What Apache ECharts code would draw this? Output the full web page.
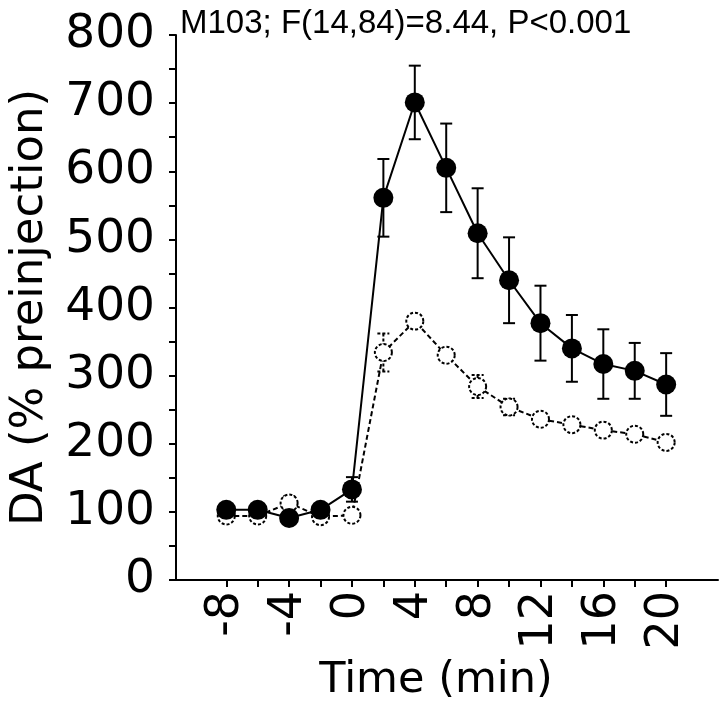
<!DOCTYPE html>
<html>
<head>
<meta charset="utf-8">
<script src="https://cdn.jsdelivr.net/npm/echarts@6/dist/echarts.min.js"></script>
<style>
html,body{margin:0;padding:0;background:#fff;}
#chart{width:720px;height:713px;}
</style>
</head>
<body>
<div id="chart"></div>
<script>
// Data
const time = [-8, -6, -4, -2, 0, 2, 4, 6, 8, 10, 12, 14, 16, 18, 20];
const filledMean = [103, 103, 91, 103, 133, 561, 701, 605, 509, 440, 377, 340, 317, 307, 287];
const filledErr  = [5, 5, 5, 5, 18, 57, 54, 65, 66, 63, 55, 49, 51, 41, 46];
const openMean   = [94, 94, 113, 93, 95, 334, 380, 330, 284, 254, 236, 228, 220, 214, 202];
const openErr    = [4, 4, 10, 4, 4, 28, 6, 8, 17, 12, 6, 5, 5, 5, 5];
const xTicks  = [-8, -6, -4, -2, 0, 2, 4, 6, 8, 10, 12, 14, 16, 18, 20];
const xLabels = [-8, -4, 0, 4, 8, 12, 16, 20];
const yTicks  = [0, 50, 100, 150, 200, 250, 300, 350, 400, 450, 500, 550, 600, 650, 700, 750, 800];
const yLabels = [0, 100, 200, 300, 400, 500, 600, 700, 800];
const titleText = 'M103; F(14,84)=8.44, P<0.001';

const pairs = (xs, ys) => xs.map((x, i) => [x, ys[i]]);
const errData = (xs, m, e) => xs.map((x, i) => [x, m[i] - e[i], m[i] + e[i]]);

function errRenderer(dash) {
  return function (params, api) {
    const x = api.value(0), lo = api.value(1), hi = api.value(2);
    const pTop = api.coord([x, hi]);
    const pBot = api.coord([x, lo]);
    const w = 6;
    const style = { stroke: '#000', lineWidth: 2, lineDash: dash };
    return {
      type: 'group',
      children: [
        { type: 'line', shape: { x1: pTop[0], y1: pTop[1], x2: pBot[0], y2: pBot[1] }, style: style },
        { type: 'line', shape: { x1: pTop[0] - w, y1: pTop[1], x2: pTop[0] + w, y2: pTop[1] }, style: style },
        { type: 'line', shape: { x1: pBot[0] - w, y1: pBot[1], x2: pBot[0] + w, y2: pBot[1] }, style: style }
      ]
    };
  };
}

const FONT = 'DejaVu Sans';
const chart = echarts.init(document.getElementById('chart'), null, { renderer: 'canvas' });
chart.setOption({
  animation: false,
  backgroundColor: '#fff',
  title: {
    text: titleText,
    left: 175,
    top: 2,
    textStyle: { fontFamily: 'Liberation Sans', fontSize: 33, fontWeight: 'normal', color: '#000' }
  },
  grid: { left: 172, right: 2, top: 35, bottom: 133, containLabel: false },
  xAxis: {
    type: 'value',
    min: -11.2,
    max: 23.3,
    name: 'Time (min)',
    nameLocation: 'middle',
    nameGap: 79,
    nameTextStyle: { fontFamily: FONT, fontSize: 43, color: '#000', padding: [0, 22, 0, 0] },
    axisLine: { onZero: false, lineStyle: { color: '#000', width: 2 } },
    axisTick: { show: true, inside: false, length: 7, customValues: xTicks, lineStyle: { color: '#000', width: 2 } },
    axisLabel: { customValues: xLabels, rotate: 90, margin: 11, fontFamily: FONT, fontSize: 46, color: '#000' },
    splitLine: { show: false }
  },
  yAxis: {
    type: 'value',
    min: 0,
    max: 800,
    name: 'DA (% preinjection)',
    nameLocation: 'middle',
    nameGap: 123,
    nameTextStyle: { fontFamily: FONT, fontSize: 45, color: '#000' },
    axisLine: { show: true, onZero: false, lineStyle: { color: '#000', width: 2 } },
    axisTick: { show: true, inside: false, length: 7, customValues: yTicks, lineStyle: { color: '#000', width: 2 } },
    axisLabel: { customValues: yLabels, margin: 21, fontFamily: FONT, fontSize: 47, color: '#000' },
    splitLine: { show: false }
  },
  series: [
    {
      type: 'custom',
      name: 'filledErr',
      renderItem: errRenderer(null),
      data: errData(time, filledMean, filledErr),
      z: 1
    },
    {
      type: 'custom',
      name: 'openErr',
      renderItem: errRenderer([3, 2]),
      data: errData(time, openMean, openErr),
      z: 1
    },
    {
      type: 'line',
      name: 'open',
      data: pairs(time, openMean),
      symbol: 'circle',
      symbolSize: 17,
      lineStyle: { color: '#000', width: 2, type: [5, 3] },
      itemStyle: { color: '#fff', borderColor: '#000', borderWidth: 2, borderType: [3, 2] },
      z: 3
    },
    {
      type: 'line',
      name: 'filled',
      data: pairs(time, filledMean),
      symbol: 'circle',
      symbolSize: 20,
      lineStyle: { color: '#000', width: 2 },
      itemStyle: { color: '#000', borderColor: '#000', borderWidth: 0 },
      z: 4
    }
  ]
});
</script>
</body>
</html>
